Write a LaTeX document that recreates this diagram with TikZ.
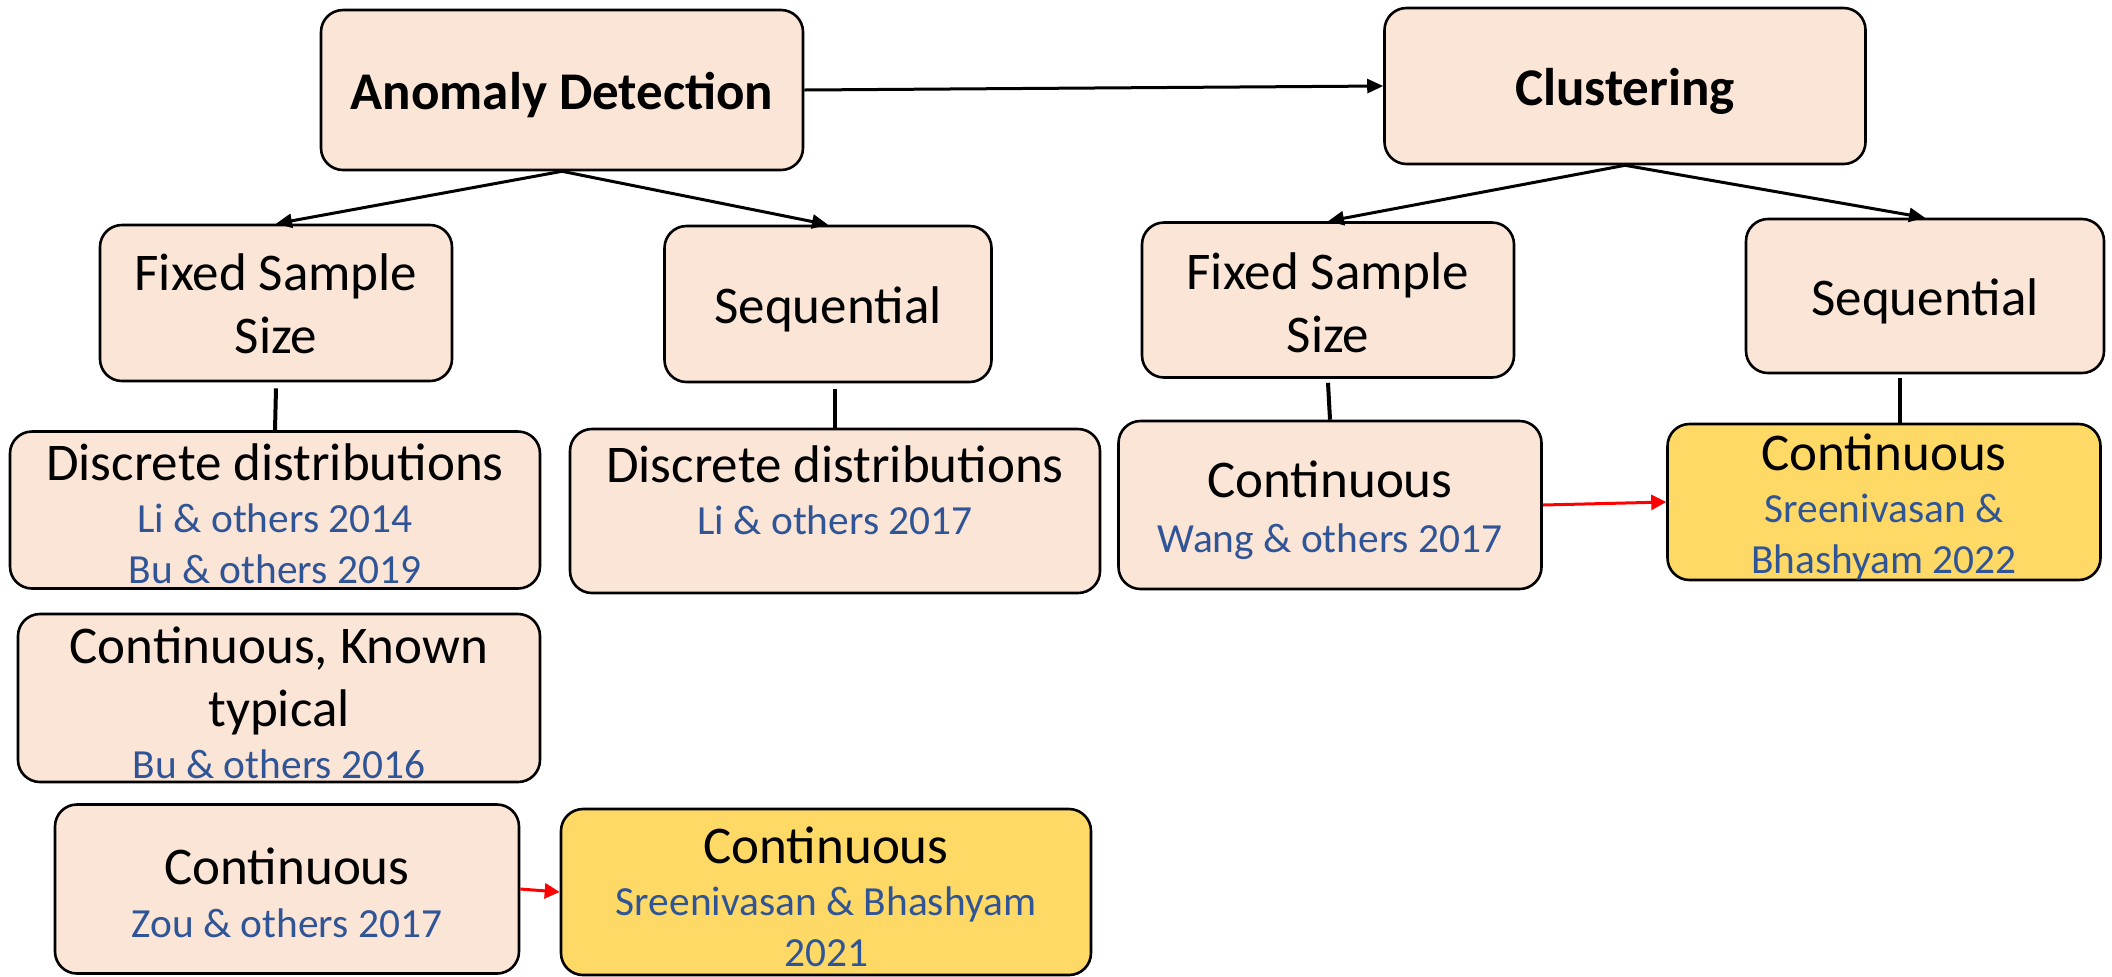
\documentclass[tikz,border=0pt]{standalone}
\usepackage{fontspec}
\setmainfont{Carlito}
\usetikzlibrary{arrows.meta}
\definecolor{peach}{HTML}{FBE5D6}
\definecolor{gold}{HTML}{FFD966}
\definecolor{citeblue}{HTML}{2F5597}
% reference lines are set smaller and in blue
\newcommand\reftext[1]{{\color{citeblue}\fontsize{20.7}{25}\selectfont #1}}
% a rounded box and its centred caption: style, name, position, size, caption shift, caption
\newcommand\panel[6]{%
  \node[#1, #4] (#2) at #3 {};
  \node[boxtext, yshift=#5] (#2-text) at (#2.center) {#6};
}

\begin{document}
\begin{tikzpicture}[x=0.5pt,y=-0.5pt,
  box/.style={draw=black, line width=1.3pt, fill=peach, rounded corners=11pt, inner sep=0pt},
  hlbox/.style={box, fill=gold},
  boxtext/.style={align=center, inner sep=0pt, font=\fontsize{26.5}{31.5}\selectfont},
  link/.style={line width=1.5pt, -{Triangle[length=8pt,width=7pt]}},
  stem/.style={line width=2pt},
  newlink/.style={draw=red, line width=1.5pt, -{Triangle[length=7.5pt,width=7.5pt]}}]
\useasboundingbox (0,0) rectangle (2112,976);

% top level
\panel{box}{ad}{(562,90)}{minimum width=241pt, minimum height=80pt}{-2.7pt}
  {\bfseries Anomaly Detection}
\panel{box}{cl}{(1625,86)}{minimum width=240.5pt, minimum height=78pt}{-2.7pt}
  {\bfseries Clustering}

% anomaly detection branch
\panel{box}{lfss}{(276,303)}{minimum width=176pt, minimum height=78pt}{-0.3pt}
  {Fixed Sample\\Size}
\panel{box}{lseq}{(828,304)}{minimum width=163.5pt, minimum height=78pt}{-2.7pt}
  {Sequential}
\panel{box}{ldd1}{(275,510)}{minimum width=265pt, minimum height=78.5pt}{-2pt}
  {Discrete distributions\\[-5.5pt]\reftext{Li \& others 2014}\\[-6pt]\reftext{Bu \& others 2019}}
\panel{box}{ldd2}{(835,511)}{minimum width=265pt, minimum height=82pt}{10.4pt}
  {Discrete distributions\\[-5.5pt]\reftext{Li \& others 2017}}
\panel{box}{ckt}{(279,698)}{minimum width=261pt, minimum height=84pt}{-2.4pt}
  {Continuous, Known\\typical\\[-5.5pt]\reftext{Bu \& others 2016}}
\panel{box}{zou}{(287,889)}{minimum width=232pt, minimum height=84.5pt}{-1.7pt}
  {Continuous\\[-5pt]\reftext{Zou \& others 2017}}
\panel{hlbox}{y21}{(826,892)}{minimum width=265pt, minimum height=83pt}{-2.4pt}
  {Continuous\\[-5.5pt]\reftext{Sreenivasan \& Bhashyam}\\[-6pt]\reftext{2021}}

% clustering branch
\panel{box}{cfss}{(1328,300)}{minimum width=186pt, minimum height=77.5pt}{-1.5pt}
  {Fixed Sample\\Size}
\panel{box}{cseq}{(1925,296)}{minimum width=179pt, minimum height=77pt}{-2.7pt}
  {Sequential}
\panel{box}{wang}{(1330,505)}{minimum width=211.5pt, minimum height=84pt}{-2.7pt}
  {Continuous\\[-4pt]\reftext{Wang \& others 2017}}
\panel{hlbox}{y22}{(1884,502)}{minimum width=216.5pt, minimum height=78pt}{-2.7pt}
  {Continuous\\[-5.5pt]\reftext{Sreenivasan \&}\\[-6pt]\reftext{Bhashyam 2022}}

% connectors
\draw[link] (ad.east) -- (cl.west);
\draw[link] (ad.south) -- (lfss.north);
\draw[link] (ad.south) -- (lseq.north);
\draw[link] (cl.south) -- (cfss.north);
\draw[link] (cl.south) -- (cseq.north);

\coordinate (lseqfoot) at (lseq.south -| ldd2.north);
\coordinate (cseqfoot) at ([xshift=-12.5pt]cseq.south);
\draw[stem] ([yshift=-3pt]lfss.south) -- (ldd1.north);
\draw[stem] ([yshift=-3pt]lseqfoot) -- (ldd2.north);
\draw[stem] ([yshift=-2pt]cfss.south) -- (wang.north);
\draw[stem] ([yshift=-2pt]cseqfoot) -- (cseqfoot |- y22.north);

\draw[newlink] (zou.east) -- (y21.west);
\draw[newlink] (wang.east) -- (y22.west);
\end{tikzpicture}
\end{document}
